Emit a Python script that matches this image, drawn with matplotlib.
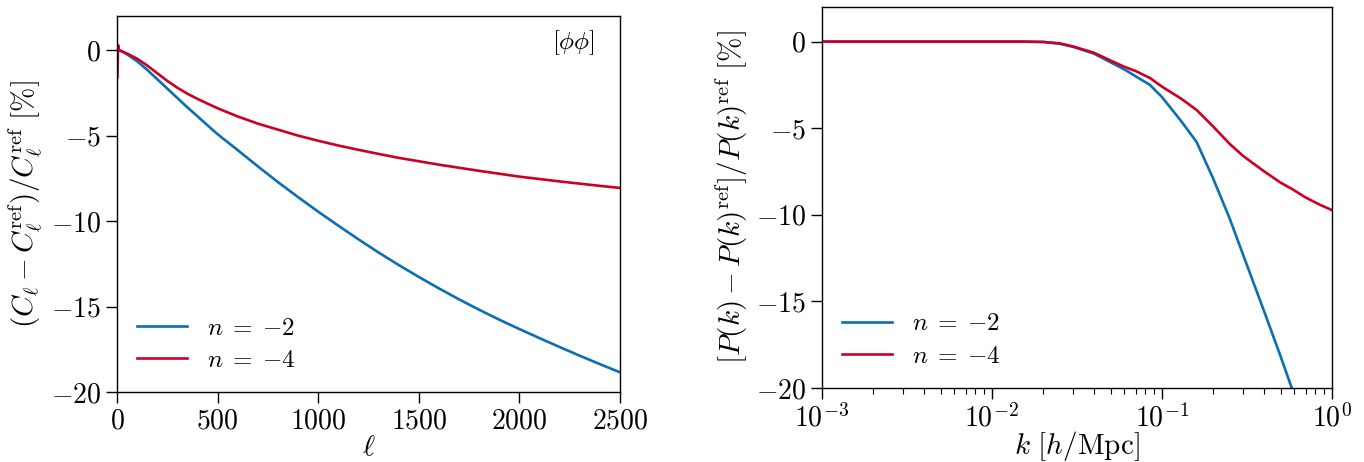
import numpy as np
from matplotlib import pyplot as plt

plt.rcParams['font.family'] = 'serif'
plt.rcParams['font.serif'] = ['cmr10']
plt.rcParams['mathtext.fontset'] = 'cm'
plt.rcParams['axes.formatter.use_mathtext'] = True
plt.rcParams['axes.unicode_minus'] = True

# 左图：C_ell 相对偏差
ell = [2, 5, 10, 30, 50, 100, 150, 200, 250, 300, 350, 400, 450, 500, 600,
       700, 800, 900, 1000, 1100, 1200, 1300, 1400, 1500, 1600, 1700, 1800,
       1900, 2000, 2100, 2200, 2300, 2400, 2500]
cl_n2 = [0.0, 0.1, 0.0, -0.1, -0.25, -0.65, -1.15, -1.7, -2.25, -2.8, -3.35,
         -3.87, -4.4, -4.92, -5.85, -6.8, -7.72, -8.6, -9.45, -10.27, -11.07,
         -11.84, -12.57, -13.27, -13.94, -14.58, -15.19, -15.77, -16.32, -16.85,
         -17.37, -17.88, -18.37, -18.85]
cl_n4 = [-1.6, 0.3, 0.0, -0.1, -0.2, -0.5, -0.9, -1.35, -1.8, -2.2, -2.55,
         -2.85, -3.13, -3.4, -3.88, -4.3, -4.65, -5.0, -5.3, -5.58, -5.83,
         -6.07, -6.3, -6.5, -6.7, -6.88, -7.06, -7.23, -7.4, -7.54, -7.68,
         -7.81, -7.94, -8.06]

# 右图：P(k) 相对偏差
k = [1e-3, 3e-3, 1e-2, 0.015, 0.02, 0.025, 0.03, 0.04, 0.05, 0.06, 0.07,
     0.085, 0.1, 0.13, 0.16, 0.2, 0.25, 0.3, 0.4, 0.5, 0.58, 0.7, 0.85, 1.0]
pk_n2 = [0.0, 0.0, 0.0, 0.0, -0.02, -0.12, -0.3, -0.7, -1.2, -1.6, -2.0,
         -2.5, -3.2, -4.6, -5.8, -7.9, -10.2, -12.3, -15.6, -18.2, -20.0,
         -23.0, -26.0, -29.0]
pk_n4 = [0.0, 0.0, 0.0, 0.0, -0.02, -0.1, -0.28, -0.65, -1.1, -1.45, -1.7,
         -2.1, -2.6, -3.3, -3.95, -4.9, -5.9, -6.6, -7.5, -8.15, -8.5, -9.0,
         -9.42, -9.73]

labels = [r'$n\;=\;{-2}$', r'$n\;=\;{-4}$']
colors = ['#0a6fb3', '#cc0025']

fig = plt.figure(figsize=(13.64, 4.62), dpi=100)
ax1 = fig.add_axes([0.0858, 0.1515, 0.3688, 0.8139])
ax2 = fig.add_axes([0.6026, 0.1602, 0.3739, 0.8247])

ax1.plot(ell, cl_n2, color=colors[0], lw=1.9, label=labels[0])
ax1.plot(ell, cl_n4, color=colors[1], lw=1.9, label=labels[1])
ax1.set_xlim(0, 2500)
ax1.set_ylim(-20, 2)
ax1.set_xticks([0, 500, 1000, 1500, 2000, 2500])
ax1.set_yticks([0, -5, -10, -15, -20])
ax1.set_xlabel(r'$\ell$', fontsize=21, labelpad=0)
ax1.set_ylabel(r'$(C_\ell - C_\ell^{\rm ref})/C_\ell^{\rm ref}\ [\%]$', fontsize=21)
ax1.text(0.95, 0.93, r'$[\phi\phi]$', transform=ax1.transAxes, ha='right',
         va='center', fontsize=18)

ax2.semilogx(k, pk_n2, color=colors[0], lw=1.9, label=labels[0])
ax2.semilogx(k, pk_n4, color=colors[1], lw=1.9, label=labels[1])
ax2.set_xlim(1e-3, 1)
ax2.set_ylim(-20, 2)
ax2.set_yticks([0, -5, -10, -15, -20])
ax2.set_xlabel(r'$k\ [h/{\rm Mpc}]$', fontsize=21, labelpad=-3)
ax2.set_ylabel(r'$[P(k) - P(k)^{\rm ref}]/P(k)^{\rm ref}\ [\%]$', fontsize=21)

for ax in (ax1, ax2):
    ax.tick_params(which='major', direction='out', length=8, width=1,
                   labelsize=20)
    ax.tick_params(which='minor', direction='out', length=4, width=0.8)
    for s in ax.spines.values():
        s.set_linewidth(1)
    ax.legend(loc='lower left', bbox_to_anchor=(0.0, 0.0), frameon=False,
              fontsize=18, handlelength=2.0, handletextpad=0.8,
              labelspacing=0.4, borderaxespad=0.4)

fig.savefig('out.png', dpi=100)
